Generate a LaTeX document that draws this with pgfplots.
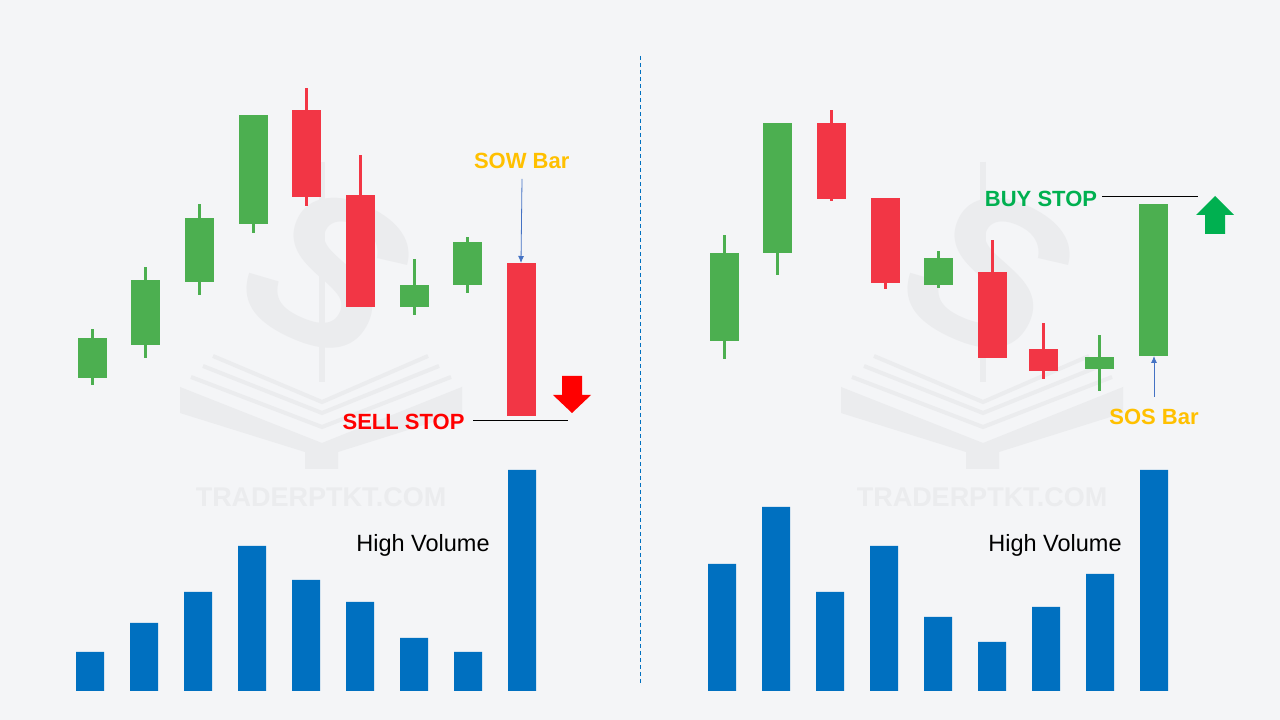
\documentclass[border=0pt]{standalone}
\usepackage{pgfplots}
\pgfplotsset{compat=1.18}
\usepackage{pgfplotstable}
\usepackage{fontspec}
\setmainfont{Liberation Sans}
\usetikzlibrary{arrows.meta}
\definecolor{bg}{HTML}{F4F5F7}
\definecolor{wm}{HTML}{EBECEE}
\definecolor{cgreen}{HTML}{4CAF50}
\definecolor{cred}{HTML}{F23645}
\definecolor{vblue}{HTML}{0070C0}
\definecolor{lorange}{HTML}{FFC000}
\definecolor{bgreen}{HTML}{00B050}
\definecolor{sred}{HTML}{FF0000}
\definecolor{ablue}{HTML}{4472C4}

% candle bodies (x, body bottom, body top)
\pgfplotstableread{
x bot top
92 313 353
145.5 346 411
199 409 473
253 467 576
414 384 406
467.5 406 449
724 350 438
777.5 438 568
938.5 406 433
1099.5 322 334
1153.5 335 487
}\greenbody
\pgfplotstableread{
x bot top
306.5 494 581
360 384 496
521.5 275 428
831 492 568
885 408 493
992 333 419
1043.5 320 342
}\redbody
% wicks (x, low, high)
\pgfplotstableread{
x lo hi
92 306 362
145.5 333 424
199 396 487
253 458 576
414 376 432
467.5 398 454
724 332 456
777.5 416 568
938.5 403 440
1099.5 300 356
}\greenwick
\pgfplotstableread{
x lo hi
306.5 485 603
360 384 536
831 490 581
885 402 493
992 333 451
1043.5 312 368
}\redwick

\pgfplotsset{candle/.style 2 args={draw=none, mark=none, error bars/.cd, y dir=plus, y explicit, error mark=none,
  error bar style={line width=#1, draw=#2, solid}}}

\begin{document}
\begin{tikzpicture}
\begin{axis}[scale only axis, width=1280pt, height=720pt,
  xmin=0, xmax=1280, ymin=-29, ymax=691, hide axis, clip=false]
\fill[bg] (axis cs:0,-29) rectangle (axis cs:1280,691);

% watermark logos
\pgfplotsinvokeforeach{0,661}{
  \node[text=wm, font=\fontsize{27}{30}\selectfont\bfseries] at (axis cs:321+#1,194) {TRADERPTKT.COM};
  \node[text=wm, font=\fontsize{215}{215}\selectfont\bfseries\itshape, rotate=-26, inner sep=0pt] at (axis cs:327+#1,420) {S};
  \draw[wm, line width=6pt] (axis cs:322+#1,529) -- (axis cs:322+#1,309);
  \draw[wm, line width=4pt] (axis cs:213+#1,335) -- (axis cs:322+#1,289) -- (axis cs:428+#1,335);
  \draw[wm, line width=4pt] (axis cs:203+#1,325) -- (axis cs:322+#1,278) -- (axis cs:439+#1,325);
  \draw[wm, line width=4pt] (axis cs:191+#1,314) -- (axis cs:322+#1,264) -- (axis cs:451+#1,314);
  \fill[wm] (axis cs:180+#1,304) -- (axis cs:322+#1,248) -- (axis cs:462+#1,304) -- (axis cs:462+#1,278)
     -- (axis cs:338+#1,239) -- (axis cs:338+#1,222) -- (axis cs:305+#1,222) -- (axis cs:305+#1,239)
     -- (axis cs:180+#1,278) -- cycle;
}

% separator
\draw[vblue, line width=1pt, dash pattern=on 4pt off 3pt] (axis cs:640,635) -- (axis cs:640,8);

% volume
\addplot[ybar, bar width=28pt, fill=vblue, draw=none] coordinates {
(90,39) (144,68) (198,99) (252,145) (306,111) (360,89) (414,53) (468,39) (522,221)
(722,127) (776,184) (830,99) (884,145) (938,74) (992,49) (1046,84) (1100,117) (1154,221)};

% wicks
\addplot[candle={3pt}{cgreen}] table[x=x, y=lo, y error expr=\thisrow{hi}-\thisrow{lo}] {\greenwick};
\addplot[candle={3pt}{cred}] table[x=x, y=lo, y error expr=\thisrow{hi}-\thisrow{lo}] {\redwick};
% bodies
\addplot[candle={29pt}{cgreen}] table[x=x, y=bot, y error expr=\thisrow{top}-\thisrow{bot}] {\greenbody};
\addplot[candle={29pt}{cred}] table[x=x, y=bot, y error expr=\thisrow{top}-\thisrow{bot}] {\redbody};

% annotations left
\node[text=lorange, font=\fontsize{22}{26}\selectfont\bfseries] at (axis cs:521.7,530.3) {SOW Bar};
\draw[ablue, line width=0.8pt, -{Latex[length=7pt,width=6pt]}] (axis cs:522,512) -- (axis cs:521,428);
\node[text=sred, font=\fontsize{22}{26}\selectfont\bfseries] at (axis cs:403.5,269) {SELL STOP};
\draw[black, line width=1pt] (axis cs:473,270) -- (axis cs:568,270);
\fill[sred] (axis cs:562,315) -- (axis cs:582,315) -- (axis cs:582,296) -- (axis cs:591,296) -- (axis cs:572,278)
  -- (axis cs:553,296) -- (axis cs:562,296) -- cycle;
\node[text=black, font=\fontsize{23.5}{27}\selectfont] at (axis cs:423,146) {High Volume};

% annotations right
\node[text=bgreen, font=\fontsize{22}{26}\selectfont\bfseries] at (axis cs:1041,492) {BUY STOP};
\draw[black, line width=1pt] (axis cs:1102,494) -- (axis cs:1198,494);
\fill[bgreen] (axis cs:1205,457) -- (axis cs:1225,457) -- (axis cs:1225,476) -- (axis cs:1234,476) -- (axis cs:1215,495)
  -- (axis cs:1196,476) -- (axis cs:1205,476) -- cycle;
\node[text=lorange, font=\fontsize{22}{26}\selectfont\bfseries] at (axis cs:1154,274) {SOS Bar};
\draw[ablue, line width=0.8pt, -{Latex[length=7pt,width=6pt]}] (axis cs:1154,294) -- (axis cs:1154,335);
\node[text=black, font=\fontsize{23.5}{27}\selectfont] at (axis cs:1055,146) {High Volume};
\end{axis}
\end{tikzpicture}
\end{document}
